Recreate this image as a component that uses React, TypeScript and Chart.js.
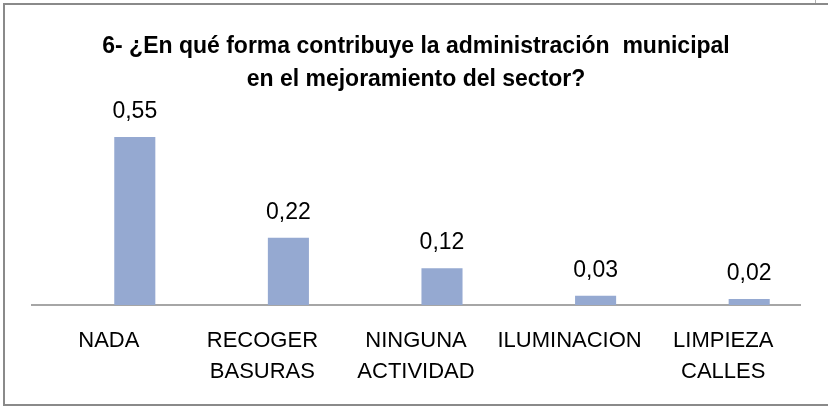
import React, { useEffect, useRef } from "react";
import { Chart, registerables } from "chart.js";

Chart.register(...registerables);

const titleLines = [
  "6- ¿En qué forma contribuye la administración  municipal",
  "en el mejoramiento del sector?",
];
const categories = [
  ["NADA"],
  ["RECOGER", "BASURAS"],
  ["NINGUNA", "ACTIVIDAD"],
  ["ILUMINACION"],
  ["LIMPIEZA", "CALLES"],
];
const values = [0.55, 0.22, 0.12, 0.03, 0.02];
const emptySeries = [null, null, null, null, null];

const FONT = "'Liberation Sans', Arial, sans-serif";
const BAR_COLOR = "#95a9d1";

const valueLabels = {
  id: "valueLabels",
  afterDatasetsDraw(chart: any) {
    const ctx = chart.ctx;
    const meta = chart.getDatasetMeta(1);
    ctx.save();
    ctx.font = `23px ${FONT}`;
    ctx.fillStyle = "#000";
    ctx.textAlign = "center";
    ctx.textBaseline = "alphabetic";
    meta.data.forEach((bar: any, i: number) => {
      const v = values[i];
      const txt = v.toFixed(2).replace(".", ",");
      ctx.fillText(txt, bar.x, bar.y - 19);
    });
    ctx.restore();
  },
};

function ChartCanvas() {
  const ref = useRef<HTMLCanvasElement>(null);
  useEffect(() => {
    if (!ref.current) return;
    const chart = new Chart(ref.current, {
      type: "bar",
      data: {
        labels: categories,
        datasets: [
          {
            data: emptySeries as any,
            backgroundColor: BAR_COLOR,
          },
          {
            data: values,
            backgroundColor: BAR_COLOR,
            borderWidth: 0,
          },
        ],
      },
      options: {
        responsive: false,
        animation: false,
        devicePixelRatio: 1,
        categoryPercentage: 0.677,
        barPercentage: 0.79,
        layout: { padding: { left: 32, right: 28, top: 0, bottom: 0 } },
        plugins: {
          legend: { display: false },
          tooltip: { enabled: false },
          title: {
            display: true,
            text: titleLines,
            color: "#000",
            font: { family: FONT, size: 23, weight: "bold", lineHeight: 1.45 },
            padding: { top: 30, bottom: 25 },
          },
        },
        scales: {
          x: {
            grid: { display: false, drawTicks: false },
            border: { display: true, color: "#a6a6a6", width: 2 },
            ticks: {
              color: "#000",
              font: { family: FONT, size: 22, lineHeight: 1.4 },
              padding: 21,
              maxRotation: 0,
              autoSkip: false,
            },
            afterFit(scale: any) {
              scale.height = 103;
            },
          },
          y: {
            display: false,
            min: 0,
            max: 0.6,
          },
        },
      },
      plugins: [valueLabels],
    });
    return () => chart.destroy();
  }, []);
  return <canvas ref={ref} width={828} height={408} style={{ display: "block" }} />;
}

export default function App() {
  return (
    <div style={{ position: "absolute", left: 0, top: 0, width: 828, height: 408, background: "#fff" }}>
      <ChartCanvas />
      <div
        style={{
          position: "absolute",
          left: 3,
          top: 3,
          width: 825,
          height: 403,
          boxSizing: "border-box",
          borderLeft: "2px solid #8a8a8a",
          borderTop: "2px solid #8a8a8a",
          borderBottom: "2px solid #8a8a8a",
          pointerEvents: "none",
        }}
      />
      <div style={{ position: "absolute", left: 815, top: 0, width: 1, height: 3, background: "#b0b0b0" }} />
    </div>
  );
}
